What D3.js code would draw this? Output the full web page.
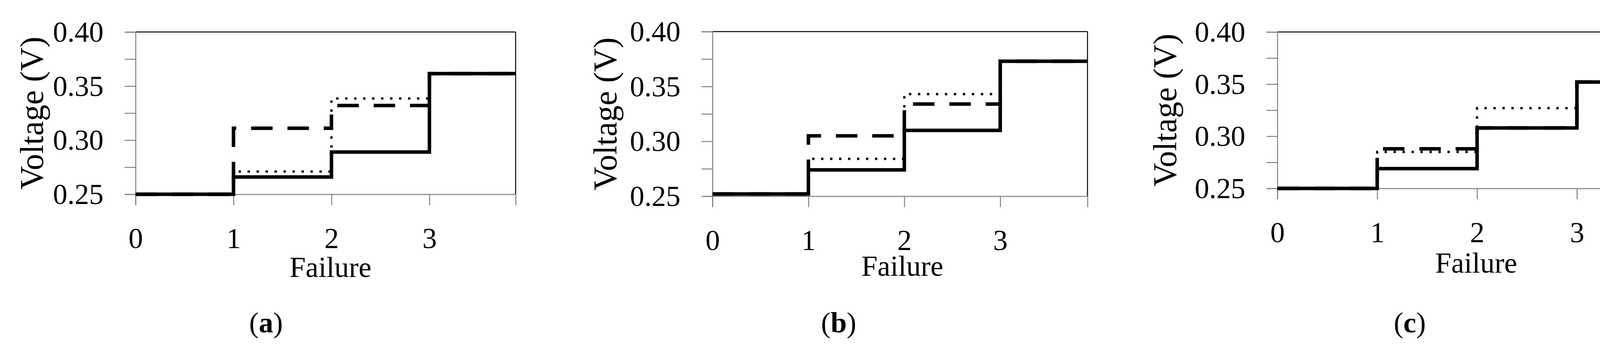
<!DOCTYPE html><html><head><meta charset="utf-8">
<script src="https://cdn.jsdelivr.net/npm/d3@7"></script>
<style>body{margin:0;background:#fff}svg{display:block}</style></head><body>
<svg id="c" width="4271" height="887"></svg>
<script>
const failures = [0, 1, 2, 3];
const xTickLabels = ["0", "1", "2", "3"];
const yTicks = [0.25, 0.30, 0.35, 0.40];
const yMinor = [0.275, 0.325, 0.375];
const panelLabels = ["a", "b", "c"];
// series values per panel, voltage after each failure count
const solidA  = [0.25, 0.266, 0.289, 0.3615];
const dottedA = [0.25, 0.271, 0.3385, 0.3615];
const dashedA = [0.25, 0.311, 0.332, 0.3615];
const solidB  = [0.252, 0.274, 0.310, 0.373];
const dottedB = [0.252, 0.284, 0.343, 0.373];
const dashedB = [0.252, 0.305, 0.334, 0.373];
const solidC  = [0.25, 0.269, 0.308, 0.352];
const dottedC = [0.25, 0.285, 0.327, 0.352];
const dashedC = [0.25, 0.288, 0.308, 0.352];

const layouts = [
  {l:347, r:1320, t:82, b:498, xmax:3.88, ylab:84, fx:846, fy:710, px:681, data:[dottedA,dashedA,solidA]},
  {l:1824, r:2784, t:81, b:503, xmax:3.91, ylab:1552, fx:2310, fy:707, px:2147, data:[dottedB,dashedB,solidB]},
  {l:3270, r:4267, t:82, b:483, xmax:3.90, ylab:2985, fx:3779, fy:699, px:3609, data:[dottedC,dashedC,solidC]}
];
const styles = [
  {dash:"6,17", w:6},
  {dash:"55,38", w:9},
  {dash:null, w:9}
];
const svg = d3.select("#c");
const font = "'Liberation Serif', 'DejaVu Serif', serif";
layouts.forEach((L, i) => {
  const g = svg.append("g");
  const x = d3.scaleLinear().domain([0, L.xmax]).range([L.l, L.r]);
  const y = d3.scaleLinear().domain([0.25, 0.40]).range([L.b, L.t]);
  g.append("line").attr("x1",L.l).attr("x2",L.r).attr("y1",L.t).attr("y2",L.t).attr("stroke","#000").attr("stroke-width",2.5);
  g.append("line").attr("x1",L.r).attr("x2",L.r).attr("y1",L.t).attr("y2",L.b).attr("stroke","#000").attr("stroke-width",2.5);
  const ya = g.append("g").attr("transform",`translate(${L.l},0)`)
    .call(d3.axisLeft(y).tickValues(yTicks.concat(yMinor)).tickSize(28).tickFormat(d => yTicks.includes(d) ? d.toFixed(2) : ""));
  const xa = g.append("g").attr("transform",`translate(0,${L.b})`)
    .call(d3.axisBottom(x).tickValues(failures).tickSize(28).tickFormat((d,j)=>xTickLabels[j]));
  [ya, xa].forEach(a => {
    a.select(".domain").attr("stroke","#808080").attr("stroke-width",2.5);
    a.selectAll(".tick line").attr("stroke","#808080").attr("stroke-width",2.5);
    a.selectAll("text").attr("font-family",font).attr("font-size",74).attr("fill","#000");
  });
  ya.selectAll("text").attr("x",-82).attr("dy","0.33em");
  xa.selectAll("text").attr("y",85).attr("dy","0.71em");
  const line = d3.line().x(d=>x(d[0])).y(d=>y(d[1])).curve(d3.curveStepAfter);
  L.data.forEach((s, k) => {
    const pts = failures.map((f,j)=>[f, s[j]]);
    pts.push([L.xmax, s[s.length-1]]);
    const p = g.append("path").attr("d", line(pts)).attr("fill","none").attr("stroke","#000")
      .attr("stroke-width", styles[k].w);
    if (styles[k].dash) p.attr("stroke-dasharray", styles[k].dash);
  });
  g.append("text").attr("x",L.fx).attr("y",L.fy).attr("text-anchor","middle")
    .attr("font-family",font).attr("font-size",74).text("Failure");
  g.append("text").attr("transform",`translate(${L.ylab+26},${(L.t+L.b)/2}) rotate(-90)`)
    .attr("text-anchor","middle").attr("font-family",font).attr("font-size",84).text("Voltage (V)");
  const pl = g.append("text").attr("x",L.px).attr("y",852)
    .attr("text-anchor","middle").attr("font-family",font).attr("font-size",74);
  pl.append("tspan").text("(");
  pl.append("tspan").attr("font-weight","bold").text(panelLabels[i]);
  pl.append("tspan").text(")");
});
</script></body></html>
